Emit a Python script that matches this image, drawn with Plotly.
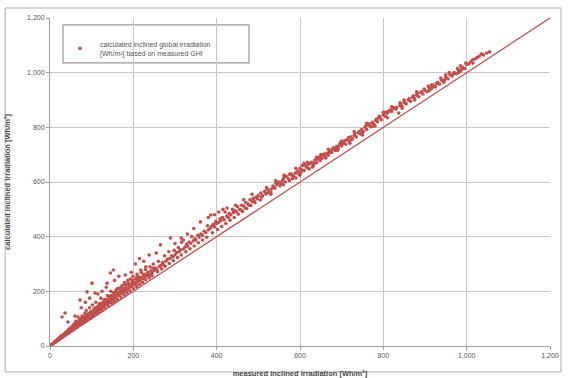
import plotly.graph_objects as go

# measured inclined irradiation [Wh/m²] (x) vs calculated (y)
meas = [5,8,10,12,14,15,17,18,20,22,24,25,27,28,29,30,32,33,35,36,37,38,40,42,43,44,45,47,48,50,52,53,55,56,58,60,62,63,65,66,67,68,70,72,72,74,75,77,78,80,82,84,85,87,88,89,90,92,94,95,96,98,100,101,
        102,104,106,108,108,110,112,114,116,118,120,122,124,126,128,130,132,134,136,137,138,140,142,144,145,146,148,150,152,152,154,156,158,160,162,164,166,168,170,172,174,176,178,180,181,182,185,188,190,192,195,198,200,203,206,208,210,213,216,218,220,223,226,228,230,232,235,238,238,242,245,248,250,
        253,256,260,262,265,266,270,272,275,278,282,285,288,289,292,295,298,300,304,308,310,313,316,320,320,324,328,330,334,338,340,344,348,350,355,358,361,362,366,370,374,378,380,384,386,388,392,395,398,400,404,408,410,414,418,420,424,428,430,434,438,440,444,448,450,455,458,460,465,468,470,475,478,480,485,488,490,495,498,500,
        505,506,510,515,518,520,525,530,535,537,540,545,550,552,555,560,565,568,572,575,580,585,588,590,595,598,600,602,606,610,615,620,622,628,632,636,640,645,648,652,655,660,665,668,672,676,680,684,688,692,696,700,
        705,710,714,718,722,726,730,735,740,745,748,752,756,760,765,770,774,778,782,786,790,795,800,805,806,810,815,820,825,830,837,840,845,850,855,860,865,870,875,880,885,890,895,900,
        905,910,915,920,925,930,935,940,945,950,955,960,965,970,975,980,985,990,995,1000,1010,1020,1030,1040,1055]
calc = [6,10,12,16,17,20,20,24,23,28,27,34,31,38,106,35,40,37,46,121,42,50,46,55,88,50,60,53,65,57,70,60,75,63,80,68,90,71,85,74,106,78,95,168,82,100,85,110,88,98,92,120,96,130,100,198,104,118,106,140,110,125,113,230,
        150,118,135,194,122,160,128,142,132,150,136,175,140,155,145,170,150,162,154,230,185,158,172,164,267,200,168,180,278,172,190,176,198,182,210,186,195,190,215,194,205,198,225,204,260,212,208,230,214,222,218,240,224,232,228,250,236,242,240,278,250,246,262,253,290,258,270,333,262,275,268,300,276,
        285,280,310,290,370,295,305,298,330,310,318,345,320,395,330,326,350,334,342,360,345,352,380,388,355,362,372,365,380,376,400,385,392,388,405,398,454,410,405,420,415,440,425,430,479,438,445,436,455,448,452,465,458,470,462,490,475,470,485,480,500,488,495,490,510,500,498,515,512,505,525,520,515,535,528,540,530,545,538,550,
        534,560,550,565,556,575,570,562,585,582,578,590,600,586,596,612,600,620,612,605,625,620,632,615,640,628,650,636,660,642,655,665,648,672,660,680,670,690,678,686,700,695,705,698,715,708,725,715,730,722,740,732,
        745,738,755,748,765,758,770,765,780,776,792,785,800,792,808,802,818,810,826,820,835,828,845,840,856,852,862,858,872,866,852,880,876,892,886,900,895,910,905,918,912,928,922,935,
        930,945,940,955,948,965,958,972,968,985,978,992,988,1000,996,1010,1005,1020,1015,1030,1040,1050,1060,1065,1076]

# further points of the same series (the thicker parts of the cloud)
meas_more = [15,22,30,38,45,52,58,65,72,80,86,92,98,105,112,118,125,132,140,148,155,162,170,178,185,192,200,208,215,222,230,238,245,
             60,75,85,95,115,125,135,155,165,195,205,215,225,255,
             258,268,276,286,296,306,315,326,336,346,356,366,376,390,402,412,422,432,442,452,462,472,482,492,
             300,315,330,345,380,395,405,415,425,445,465,485,
             508,522,532,542,558,562,578,582,592,604,612,618,625,634,642,650,658,662,670,678,686,694,698,542,562,590,618,650,
             702,708,716,724,732,742,750,758,768,776,784,792,802,812,822,832,842,852,862,872,882,892,898,760,800,840,
             908,918,928,938,948,958,968,978,988,998,1005,1015,1025,1035,1048]
calc_more = [16,23,32,40,47,55,61,68,76,84,90,97,103,110,118,124,131,139,147,156,163,170,179,187,195,202,210,218,226,233,242,250,257,
             110,140,160,175,190,200,215,240,255,270,300,320,310,340,
             272,282,292,302,312,324,333,345,356,366,378,388,398,414,426,437,448,460,470,482,492,503,514,524,
             375,395,410,430,470,480,490,500,505,515,535,555,
             545,560,575,596,605,618,630,612,635,645,662,652,668,668,684,692,702,688,708,720,722,735,745,605,625,650,672,700,
             740,752,762,755,778,785,780,805,812,805,830,838,850,858,868,872,885,888,905,915,925,930,940,815,855,890,
             950,948,960,980,975,1000,995,1015,1012,1035,1032,1048,1055,1068,1072]

# dense low-range cloud and extra spread in the upper range
meas_dense = [3,6,9,11,13,16,19,21,23,26,28,31,34,37,39,41,44,46,49,51,54,57,59,61,64,66,69,71,73,76,79,81,83,86,89,91,93,97,99,
              103,107,109,111,115,117,119,123,127,129,131,135,139,141,143,147,149,153,157,159,163,167,169,173,177,179,183,187,189,193,197,199,
              205,209,214,219,224,229,234,240,247,
              520,548,575,610,640,668,700,730,765,790,820,850,880,915,950,985,
              530,560,600,630,660,690,720,750,780,810,845,875,910,945,980,1015]
calc_dense = [4,8,11,14,15,19,22,26,30,29,33,37,43,44,48,52,55,57,62,66,66,72,70,78,82,80,88,90,88,96,100,95,106,110,108,115,112,120,126,
              128,130,140,136,145,140,155,150,160,152,165,170,165,180,170,185,176,195,186,205,195,210,200,220,210,232,222,240,225,245,232,255,
              245,262,252,270,260,280,268,290,285,
              580,598,628,668,690,720,750,785,812,840,875,900,930,955,992,1025,
              555,590,625,655,690,715,742,772,805,835,870,900,935,965,1000,1035]

line_x = [0, 1200]
line_y = [0, 1200]
ticks = [0, 200, 400, 600, 800, 1000, 1200]
tick_text = ["0", "200", "400", "600", "800", "1,000", "1,200"]

RED = "#c0504d"
FONT = "Liberation Sans"

fig = go.Figure()
fig.add_trace(go.Scatter(x=line_x, y=line_y, mode="lines", line=dict(color=RED, width=1.3),
                         showlegend=False, hoverinfo="skip"))
fig.add_trace(go.Scatter(x=meas + meas_more + meas_dense, y=calc + calc_more + calc_dense, mode="markers",
                         marker=dict(color=RED, size=3.6, line=dict(width=0)),
                         name="calculated inclined global irradiation<br>[Wh/m²] based on measured GHI"))

axis_common = dict(range=[0, 1200], tickvals=ticks, ticktext=tick_text, showgrid=True,
                   gridcolor="#c8c8c8", gridwidth=1, showline=True, linecolor="#a0a0a0",
                   ticks="outside", ticklen=3, tickcolor="#a0a0a0", zeroline=False, automargin=False,
                   tickfont=dict(size=7, color="#555555", family=FONT))
fig.update_xaxes(**axis_common,
                 title=dict(text="<b>measured inclined irradiation [Wh/m²]</b>",
                            font=dict(size=7.5, color="#444444", family=FONT)))
fig.update_yaxes(**axis_common,
                 title=dict(text="<b>calculated inclined irradiation [Wh/m²]</b>",
                            font=dict(size=7.5, color="#444444", family=FONT)))

fig.update_layout(
    width=568, height=378,
    margin=dict(l=50, r=18, t=18, b=32),
    paper_bgcolor="white", plot_bgcolor="white",
    font=dict(family=FONT, size=7, color="#555555"),
    legend=dict(x=0.02, y=0.955, xanchor="left", yanchor="top", bgcolor="rgba(0,0,0,0)",
                borderwidth=0, font=dict(size=7, color="#555555", family=FONT),
                itemsizing="trace", itemwidth=30),
    shapes=[
        dict(type="rect", xref="paper", yref="paper", x0=0.026, x1=0.398, y0=0.863, y1=0.979,
             line=dict(color="#9a9a9a", width=1.2), fillcolor="white", layer="below"),
        dict(type="rect", xref="paper", yref="paper", x0=-0.0896, x1=1.022, y0=-0.079, y1=1.0305,
             line=dict(color="#b0b0b0", width=1), layer="below"),
    ],
)

fig.write_html("out.html", config={"displayModeBar": False},
               post_script="document.body.style.margin='0';document.body.style.overflow='hidden';")
